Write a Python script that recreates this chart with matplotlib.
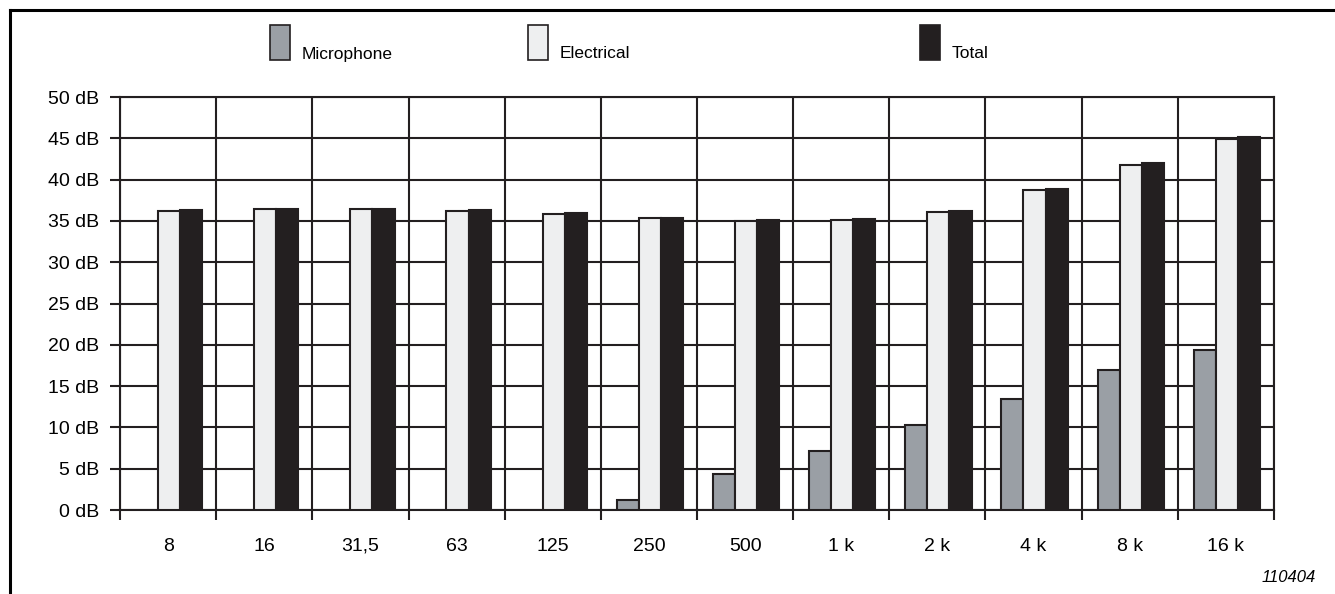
import numpy as np
import matplotlib.pyplot as plt
from matplotlib.patches import Rectangle
from matplotlib.lines import Line2D

plt.rcParams['font.family'] = ['Liberation Sans', 'DejaVu Sans']

bands = ['8', '16', '31,5', '63', '125', '250', '500', '1 k', '2 k', '4 k', '8 k', '16 k']
microphone = [np.nan, np.nan, np.nan, np.nan, np.nan, 1.2, 4.3, 7.2, 10.3, 13.4, 16.9, 19.4]
electrical = [36.2, 36.4, 36.4, 36.2, 35.8, 35.3, 35.0, 35.1, 36.1, 38.8, 41.8, 44.9]
total = [36.3, 36.5, 36.5, 36.3, 35.9, 35.4, 35.1, 35.2, 36.2, 38.9, 42.0, 45.1]

series = ['Microphone', 'Electrical', 'Total']
colors = ['#9a9fa5', '#eeeff0', '#231f20']
dark = '#231f20'

fig = plt.figure(figsize=(13.35, 5.94), dpi=100)
ax = fig.add_axes([0.0899, 0.1414, 0.8644, 0.6953])

x = np.arange(len(bands))
w = 0.23
for i, (vals, c) in enumerate(zip([microphone, electrical, total], colors)):
    ax.bar(x + (i - 1) * w + 0.01, vals, w, color=c, edgecolor=dark, linewidth=1.5, zorder=3)

ax.set_xlim(-0.5, len(bands) - 0.5)
ax.set_ylim(0, 50)
ax.set_yticks(np.arange(0, 51, 5))
ax.set_yticklabels([f'{v} dB' for v in range(0, 51, 5)], fontsize=14)
ax.set_xticks(x)
ax.set_xticklabels(bands, fontsize=14)
ax.set_xticks(np.arange(-0.5, len(bands)), minor=True)
ax.tick_params(axis='x', which='major', length=0, pad=20)
ax.tick_params(axis='x', which='minor', length=7, width=1.5, color=dark)
ax.tick_params(axis='y', length=7, width=1.5, color=dark, pad=8)
ax.grid(axis='y', which='major', color=dark, linewidth=1.5, zorder=0)
ax.grid(axis='x', which='minor', color=dark, linewidth=1.5, zorder=0)
for s in ax.spines.values():
    s.set_color(dark)
    s.set_linewidth(1.5)

# legend
W, H = 1335, 594
leg_x = [270, 528, 920]
for lx, name, c in zip(leg_x, series, colors):
    fig.patches.append(Rectangle((lx / W, 1 - 60 / H), 20 / W, 35 / H,
                                 transform=fig.transFigure, facecolor=c,
                                 edgecolor=dark, linewidth=1.2))
    fig.text((lx + 32) / W, 1 - 54 / H, name, fontsize=12.5, va='center', ha='left')

# frame lines
fig.add_artist(Line2D([10 / W, 1], [1 - 10 / H, 1 - 10 / H], color='black', linewidth=2.2,
                      transform=fig.transFigure))
fig.add_artist(Line2D([10 / W, 10 / W], [0, 1 - 10 / H], color='black', linewidth=2.2,
                      transform=fig.transFigure))

fig.text(1316 / W, 1 - 577 / H, '110404', fontsize=12, style='italic', ha='right', va='center')

plt.savefig('out.png', dpi=100)
